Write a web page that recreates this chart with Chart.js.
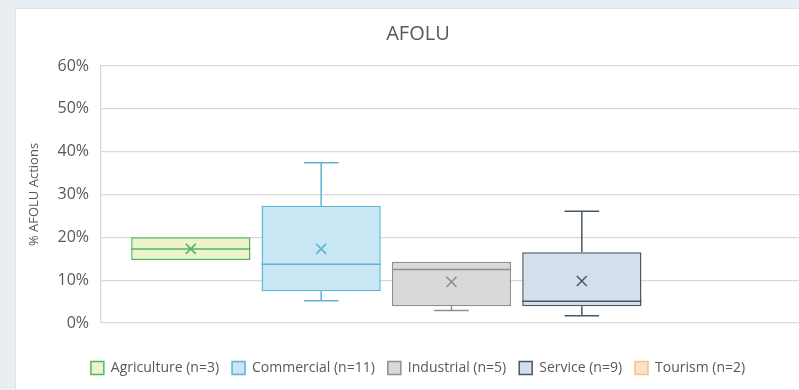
<!DOCTYPE html>
<html>
<head>
<meta charset="utf-8">
<script src="https://cdn.jsdelivr.net/npm/chart.js@4.4.1/dist/chart.umd.min.js"></script>
<style>
  html, body { margin: 0; padding: 0; background: #e9eef2; overflow: hidden; width: 799px; height: 390px; }
  #card { position: absolute; left: 15px; top: 8px; width: 830px; height: 380px; background: #ffffff; border-top: 1px solid #dde2e7; border-left: 1px solid #dde2e7; }
  canvas { position: absolute; left: 0; top: 0; }
</style>
</head>
<body>
<div id="card"><canvas id="c" width="806" height="380"></canvas></div>
<script>
// ---- data (values in %) ----
const chartTitle = 'AFOLU';
const yAxisTitle = '% AFOLU Actions';
const groups = ['Agriculture (n=3)', 'Commercial (n=11)', 'Industrial (n=5)', 'Service (n=9)', 'Tourism (n=2)'];
const mins    = [14.7, 5.2, 2.9, 1.7, null];
const q1s     = [14.7, 7.4, 3.9, 3.9, null];
const medians = [17.3, 13.7, 12.5, 5.1, null];
const q3s     = [20.0, 27.4, 14.3, 16.5, null];
const maxs    = [20.0, 37.4, 14.3, 26.1, null];
const means   = [17.3, 17.3, 9.6, 9.8, null];
const yTicks  = [0, 10, 20, 30, 40, 50, 60];

const fills   = ['#eff3c9', '#c8e6f3', '#d9d9d9', '#d3dfea', '#fde3c3'];
const strokes = ['#4db861', '#5db4d8', '#8f8f8f', '#4a5866', '#f5c48e'];

const FONT = "'Open Sans', sans-serif";
const TXT = '#595959';

const datasets = groups.map((g, i) => ({
  label: g,
  data: [q1s[i] == null ? null : [q1s[i], q3s[i]]],
  backgroundColor: fills[i],
  borderColor: strokes[i],
  borderWidth: 1.5,
  borderSkipped: false,
  categoryPercentage: 0.9297,
  barPercentage: 0.915
}));

const boxPlugin = {
  id: 'boxExtras',
  afterDatasetsDraw(chart) {
    const ctx = chart.ctx;
    const y = chart.scales.y;
    chart.data.datasets.forEach((ds, i) => {
      if (q1s[i] == null) return;
      const bar = chart.getDatasetMeta(i).data[0];
      const x = bar.x, w = bar.width;
      const cap = w * 0.29;
      ctx.save();
      ctx.strokeStyle = strokes[i];
      ctx.lineWidth = 1.5;
      ctx.beginPath();
      if (maxs[i] > q3s[i]) {
        ctx.moveTo(x, y.getPixelForValue(q3s[i]));
        ctx.lineTo(x, y.getPixelForValue(maxs[i]));
        ctx.moveTo(x - cap / 2, y.getPixelForValue(maxs[i]));
        ctx.lineTo(x + cap / 2, y.getPixelForValue(maxs[i]));
      }
      if (mins[i] < q1s[i]) {
        ctx.moveTo(x, y.getPixelForValue(q1s[i]));
        ctx.lineTo(x, y.getPixelForValue(mins[i]));
        ctx.moveTo(x - cap / 2, y.getPixelForValue(mins[i]));
        ctx.lineTo(x + cap / 2, y.getPixelForValue(mins[i]));
      }
      const ym = y.getPixelForValue(medians[i]);
      ctx.moveTo(x - w / 2, ym);
      ctx.lineTo(x + w / 2, ym);
      ctx.stroke();
      const yx = y.getPixelForValue(means[i]);
      const s = 5;
      ctx.beginPath();
      ctx.moveTo(x - s, yx - s); ctx.lineTo(x + s, yx + s);
      ctx.moveTo(x - s, yx + s); ctx.lineTo(x + s, yx - s);
      ctx.stroke();
      ctx.restore();
    });
  }
};

new Chart(document.getElementById('c'), {
  type: 'bar',
  data: { labels: [chartTitle], datasets },
  options: {
    responsive: false,
    animation: false,
    layout: { padding: { left: 18, right: 20, top: 0, bottom: 4 } },
    plugins: {
      title: {
        display: true, text: chartTitle, color: TXT,
        font: { family: FONT, size: 20, weight: 'normal' },
        padding: { top: 13, bottom: 20 }
      },
      legend: {
        position: 'bottom',
        labels: {
          color: TXT,
          font: { family: FONT, size: 14 },
          boxWidth: 13, boxHeight: 13,
          padding: 13,
          generateLabels(chart) {
            return groups.map((g, i) => ({
              text: g, fillStyle: fills[i], strokeStyle: strokes[i],
              lineWidth: 1.5, hidden: false, datasetIndex: i, fontColor: TXT
            }));
          }
        }
      },
      tooltip: { enabled: false }
    },
    scales: {
      x: {
        grid: { display: false },
        border: { display: false },
        ticks: { display: false },
        afterFit(scale) { scale.height = 25; }
      },
      y: {
        min: 0, max: 60,
        afterBuildTicks(scale) { scale.ticks = yTicks.map(v => ({ value: v })); },
        ticks: {
          color: TXT, padding: 12,
          font: { family: FONT, size: 16 },
          callback: v => v + '%'
        },
        grid: { color: '#d9d9d9', lineWidth: 1.3, drawTicks: false },
        border: { display: true, color: '#d9d9d9', width: 1.3 },
        title: {
          display: true, text: yAxisTitle, color: TXT,
          font: { family: FONT, size: 13 },
          padding: { top: -8, bottom: 4 }
        },
        afterFit(scale) { scale.width = 67; }
      }
    }
  },
  plugins: [boxPlugin]
});
</script>
</body>
</html>
